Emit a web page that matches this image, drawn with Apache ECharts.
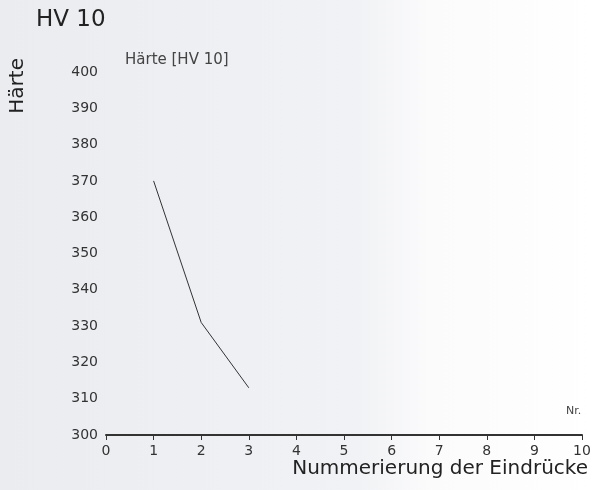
<!DOCTYPE html>
<html><head><meta charset="utf-8">
<script src="https://cdn.jsdelivr.net/npm/echarts@6/dist/echarts.min.js"></script>
<style>html,body{margin:0;padding:0;}#c{width:598px;height:490px;}</style>
</head><body><div id="c"></div>
<script>
const xValues = [1, 2, 3];
const hardness = [370, 331, 313];
const xTicks = [0,1,2,3,4,5,6,7,8,9,10];
const yTicks = [300,310,320,330,340,350,360,370,380,390,400];

const chart = echarts.init(document.getElementById('c'));
const font = 'DejaVu Sans';
chart.setOption({
  animation: false,
  backgroundColor: new echarts.graphic.LinearGradient(0,0,1,0,[
    {offset:0,color:'#eaecf0'},{offset:0.6,color:'#f1f2f5'},{offset:0.72,color:'#fbfbfc'},{offset:1,color:'#ffffff'}]),
  grid: {left:106, right:16, top:72, bottom:55},
  xAxis: {
    type:'value', min:xTicks[0], max:xTicks[xTicks.length-1], interval:1,
    axisLine:{show:true, lineStyle:{color:'#333', width:2}},
    axisTick:{show:true, length:5, lineStyle:{color:'#333'}},
    axisLabel:{fontFamily:font, fontSize:14, color:'#333', margin:9},
    splitLine:{show:false},
    name:'Nummerierung der Eindrücke', nameLocation:'end',
    nameTextStyle:{fontFamily:font, fontSize:20, color:'#222', align:'right', verticalAlign:'top', padding:[24,-6,0,0]},
    nameGap:0
  },
  yAxis: {
    type:'value', min:yTicks[0], max:yTicks[yTicks.length-1], interval:10,
    axisLine:{show:false}, axisTick:{show:false},
    axisLabel:{fontFamily:font, fontSize:14, color:'#333', margin:8},
    splitLine:{show:false}
  },
  graphic: [
    {type:'text', left:36, top:9, style:{text:'HV 10', fontFamily:font, fontSize:23, fill:'#222'}},
    {type:'text', left:8, top:58, rotation:Math.PI/2, style:{text:'Härte', fontFamily:font, fontSize:20, fill:'#222'}},
    {type:'text', left:125, top:53, style:{text:'Härte [HV 10]', fontFamily:font, fontSize:15, fill:'#444'}},
    {type:'text', left:566, top:406, style:{text:'Nr.', fontFamily:font, fontSize:11, fill:'#444'}}
  ],
  series: [{
    type:'line', data: xValues.map((x,i)=>[x, hardness[i]]),
    showSymbol:false, lineStyle:{color:'#333', width:1}
  }]
});
</script></body></html>
